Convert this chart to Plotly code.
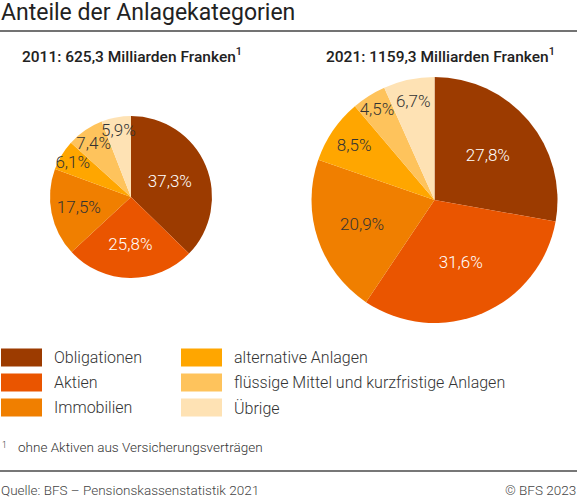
import plotly.graph_objects as go

# Anteile der Anlagekategorien (in %)
kategorien = ["Obligationen", "Aktien", "Immobilien", "alternative Anlagen",
              "flüssige Mittel und kurzfristige Anlagen", "Übrige"]
anteile_2011 = [37.3, 25.8, 17.5, 6.1, 7.4, 5.9]
anteile_2021 = [27.8, 31.6, 20.9, 8.5, 4.5, 6.7]
titel_2011 = "2011: 625,3 Milliarden Franken<sup>1</sup>"
titel_2021 = "2021: 1159,3 Milliarden Franken<sup>1</sup>"

farben = ["#9c3b00", "#ea5500", "#f07f00", "#ffa600", "#fec35c", "#fee2b4"]
text_farben = ["#ffffff", "#ffffff", "#333333", "#333333", "#333333", "#333333"]

W, H = 577, 498
FONT = "Roboto"


def px(x):
    return x / W


def py(y):
    return 1 - y / H


def pie_domain(cx, cy, r):
    return dict(x=[px(cx - r), px(cx + r)], y=[py(cy + r), py(cy - r)])


fig = go.Figure()

for werte, dom in [(anteile_2011, pie_domain(131, 197, 81)),
                   (anteile_2021, pie_domain(434.5, 200, 123))]:
    fig.add_trace(go.Pie(
        labels=kategorien, values=werte, domain=dom,
        sort=False, direction="clockwise", rotation=0,
        marker=dict(colors=farben, line=dict(width=0)),
        texttemplate="%{value:.1f}%", textposition="inside",
        insidetextorientation="horizontal",
        textfont=dict(family=FONT, size=17, color=text_farben, weight=300),
        hoverinfo="label+value", showlegend=False,
    ))

shapes = [
    # Trennlinien oben und unten
    dict(type="line", xref="paper", yref="paper", x0=0, x1=1, y0=py(31), y1=py(31),
         line=dict(color="#444444", width=1.5), layer="above"),
    dict(type="rect", xref="paper", yref="paper", x0=0, x1=1, y0=py(472), y1=py(470),
         fillcolor="#777777", line=dict(width=0)),
]

sub_font = dict(family="Roboto Medium, Roboto", size=15.5, color="#222222")

annotations = [
    dict(text="Anteile der Anlagekategorien", x=px(-1), y=py(13), xanchor="left", yanchor="middle",
         font=dict(family=FONT, size=23, color="#222222")),
    dict(text=titel_2011, x=px(132), y=py(55), xanchor="center", yanchor="middle", font=sub_font),
    dict(text=titel_2021, x=px(440), y=py(55), xanchor="center", yanchor="middle", font=sub_font),
    dict(text="<sup>1</sup>", x=px(0), y=py(445), xanchor="left", yanchor="middle",
         font=dict(family=FONT, size=12, color="#333333", weight=300)),
    dict(text="ohne Aktiven aus Versicherungsverträgen", x=px(16), y=py(447), xanchor="left",
         yanchor="middle", font=dict(family=FONT, size=13.5, color="#333333", weight=300)),
    dict(text="Quelle: BFS – Pensionskassenstatistik 2021", x=px(-1), y=py(490), xanchor="left",
         yanchor="middle", font=dict(family=FONT, size=13.5, color="#444444", weight=300)),
    dict(text="© BFS 2023", x=px(578), y=py(490), xanchor="right",
         yanchor="middle", font=dict(family=FONT, size=13.5, color="#444444", weight=300)),
]

# Legende: zwei Spalten mit je drei Einträgen
for i, (name, farbe) in enumerate(zip(kategorien, farben)):
    spalte, zeile = divmod(i, 3)
    x0 = 1 + spalte * 180
    y0 = 348.5 + zeile * 25
    shapes.append(dict(type="rect", xref="paper", yref="paper",
                       x0=px(x0), x1=px(x0 + 41), y0=py(y0 + 18), y1=py(y0),
                       fillcolor=farbe, line=dict(width=0)))
    annotations.append(dict(text=name, x=px(x0 + 51), y=py(y0 + 9), xanchor="left", yanchor="middle",
                            font=dict(family=FONT, size=16, color="#333333", weight=300)))

for a in annotations:
    a.update(xref="paper", yref="paper", showarrow=False, bgcolor="rgba(0,0,0,0)")

# leere Achse, deren Linie als Trennlinie unter dem Titel dient
fig.update_layout(
    xaxis=dict(domain=[0, 1], showline=True, linecolor="#444444", linewidth=1.5,
               showticklabels=False, ticks="", showgrid=False, zeroline=False, fixedrange=True),
    yaxis=dict(domain=[py(31), 1], visible=False, showgrid=False, fixedrange=True),
)

fig.update_layout(
    width=W, height=H, margin=dict(l=0, r=0, t=0, b=0),
    paper_bgcolor="white", plot_bgcolor="rgba(0,0,0,0)",
    separators=",.", shapes=shapes, annotations=annotations,
    uniformtext=dict(minsize=17, mode="show"),
    font=dict(family=FONT),
)

fig.write_html("out.html", config={"displayModeBar": False},
               post_script="document.body.style.margin='0px';document.body.style.overflow='hidden';")
